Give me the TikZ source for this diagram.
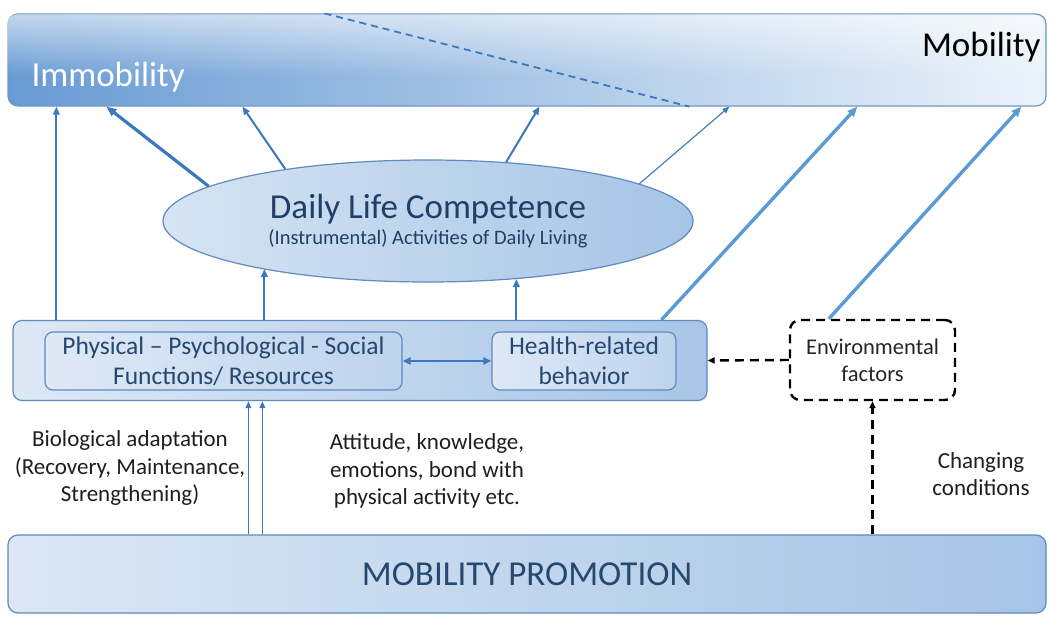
\documentclass[tikz,border=0pt]{standalone}
\usepackage{fontspec}
\setmainfont{Carlito}
\usetikzlibrary{arrows.meta,calc,shapes.geometric,fadings}
\definecolor{arrowblue}{HTML}{3B78BD}
\definecolor{lightarrow}{HTML}{5B9BD5}
\definecolor{boxedge}{HTML}{5F8BBF}
\definecolor{textblue}{HTML}{26486F}
\definecolor{darktext}{HTML}{1F3F66}
\definecolor{paleL}{RGB}{221,232,245}
\definecolor{paleR}{RGB}{168,197,231}
\definecolor{innerL}{RGB}{222,233,246}
\definecolor{innerR}{RGB}{190,211,237}
\tikzfading[name=topglow, top color=transparent!20, bottom color=transparent!100]
\tikzset{
  softbox/.style={draw=boxedge, line width=1.2pt, rounded corners=9pt,
    left color=paleL, right color=paleR},
  innerbox/.style={draw=boxedge, line width=1.2pt, rounded corners=8pt,
    left color=innerL, right color=innerR,
    text=textblue, align=center, font=\fontsize{25.5}{30}\selectfont},
  dashbox/.style={draw=black, line width=2.4pt, dash pattern=on 9pt off 6pt,
    rounded corners=10pt, fill=white, align=center,
    font=\fontsize{22.5}{27}\selectfont, text=black!85},
  arr/.style={draw=arrowblue, line width=2pt, -{Triangle[length=8pt,width=6.5pt]}},
  thickarr/.style={draw=arrowblue, line width=3.2pt, -{Triangle[length=10pt,width=8pt]}},
  thinarr/.style={draw=arrowblue, line width=1.1pt, -{Triangle[length=7pt,width=5.5pt]}},
  longarr/.style={draw=lightarrow, line width=3.4pt, -{Triangle[length=10pt,width=8pt]}},
  dasharr/.style={draw=black, line width=2.4pt, dash pattern=on 9pt off 6pt,
    -{Triangle[length=7pt,width=6pt]}},
  label/.style={align=center, font=\fontsize{23}{27.5}\selectfont, text=black!88}
}
\begin{document}
\begin{tikzpicture}[x=1pt,y=-1pt]
\useasboundingbox (0,0) rectangle (1051,621);
\fill[white] (0,0) rectangle (1051,621);

% top scale from immobility to mobility
\node[draw=boxedge!90, line width=1.2pt, rounded corners=10pt,
  left color={rgb,255:red,104;green,155;blue,212},
  right color={rgb,255:red,236;green,243;blue,250},
  minimum width=1038pt, minimum height=92pt, inner sep=0pt]
  (top) at (527,60) {};
\fill[white, path fading=topglow, rounded corners=10pt, opacity=0.75]
  ($(top.north west)+(1,1)$) rectangle ($(top.south east)+(-1,-30)$);
\draw[draw=arrowblue, line width=1.8pt, dash pattern=on 7pt off 5pt]
  ($(top.north west)+(317,0)$) -- ($(top.south west)+(682,0)$);
\node[anchor=base west, text=white, font=\fontsize{35}{40}\selectfont]
  (immob) at (28,86) {Immobility};
\node[anchor=base east, text=black, font=\fontsize{35}{40}\selectfont]
  (mob) at (1044,56) {Mobility};

% daily life competence
\node[ellipse, draw=boxedge, line width=1.2pt,
  left color={rgb,255:red,214;green,228;blue,243},
  right color={rgb,255:red,166;green,196;blue,230},
  minimum width=530pt, minimum height=122pt, inner sep=0pt, align=center]
  (dlc) at (428,221)
  {{\fontsize{35}{40}\selectfont\color{darktext}Daily Life Competence}\\[4pt]
   {\fontsize{20.5}{24}\selectfont\color{darktext}(Instrumental) Activities of Daily Living}};

% functions and behaviour panel
\node[softbox, minimum width=694pt, minimum height=80pt, inner sep=0pt]
  (mid) at (360,360.5) {};
\node[innerbox, minimum width=357pt, minimum height=58pt, inner sep=0pt]
  (func) at (223.5,361) {Physical – Psychological - Social\\Functions/ Resources};
\node[innerbox, minimum width=184pt, minimum height=58pt, inner sep=0pt]
  (health) at (584,361) {Health-related\\behavior};
\draw[draw=arrowblue, line width=2.2pt,
  {Triangle[length=8pt,width=7pt]}-{Triangle[length=8pt,width=7pt]}]
  (func.east) -- (health.west);

% environment
\node[dashbox, minimum width=165pt, minimum height=80pt, inner sep=0pt]
  (env) at (872.5,360) {Environmental\\factors};

% mobility promotion
\node[draw=boxedge, line width=1.2pt, rounded corners=10pt,
  left color={rgb,255:red,219;green,231;blue,244},
  right color={rgb,255:red,166;green,196;blue,230},
  minimum width=1038pt, minimum height=78pt, inner sep=0pt,
  text=textblue, font=\fontsize{35}{40}\selectfont]
  (bot) at (527,574) {MOBILITY PROMOTION};

% labels
\node[label] (bio) at (130,468)
  {Biological adaptation\\(Recovery, Maintenance,\\Strengthening)};
\node[label] (att) at (427,471)
  {Attitude, knowledge,\\emotions, bond with\\physical activity etc.};
\node[label] (chg) at (981,474) {Changing\\conditions};

% arrows into the top scale
\draw[arr] ($(mid.north west)+(44,0)$) -- ($(top.south west)+(49,0)$);
\draw[thickarr] (dlc.171) -- ($(top.south west)+(99,0)$);
\draw[arr] (dlc.160) -- ($(top.south west)+(235,0)$);
\draw[arr] (dlc.37) -- ($(top.south west)+(532,0)$);
\draw[thinarr] (dlc.10) -- ($(top.south west)+(722,0)$);
\draw[longarr] ($(mid.north west)+(649,0)$) -- ($(top.south west)+(850,0)$);
\draw[longarr] ($(env.north west)+(40,0)$) -- ($(top.south west)+(1014,0)$);

% arrows into daily life competence
\coordinate (m1) at ($(mid.north west)+(252,0)$);
\coordinate (m2) at ($(mid.north west)+(504,0)$);
\draw[arr] (m1) -- (m1 |- dlc.196);
\draw[arr] (m2) -- (m2 |- dlc.327);

% arrows from mobility promotion
\coordinate (b1) at ($(bot.north west)+(241,0)$);
\coordinate (b2) at ($(bot.north west)+(255,0)$);
\draw[draw=arrowblue, line width=1.6pt, -{Triangle[length=7pt,width=5.5pt]}] (b1) -- (b1 |- mid.south);
\draw[draw=arrowblue, line width=1.6pt, -{Triangle[length=7pt,width=5.5pt]}] (b2) -- (b2 |- mid.south);

% environmental influences
\draw[dasharr] (env.west) -- (mid.east);
\draw[dasharr] (bot.north -| env.south) -- (env.south);
\end{tikzpicture}
\end{document}
